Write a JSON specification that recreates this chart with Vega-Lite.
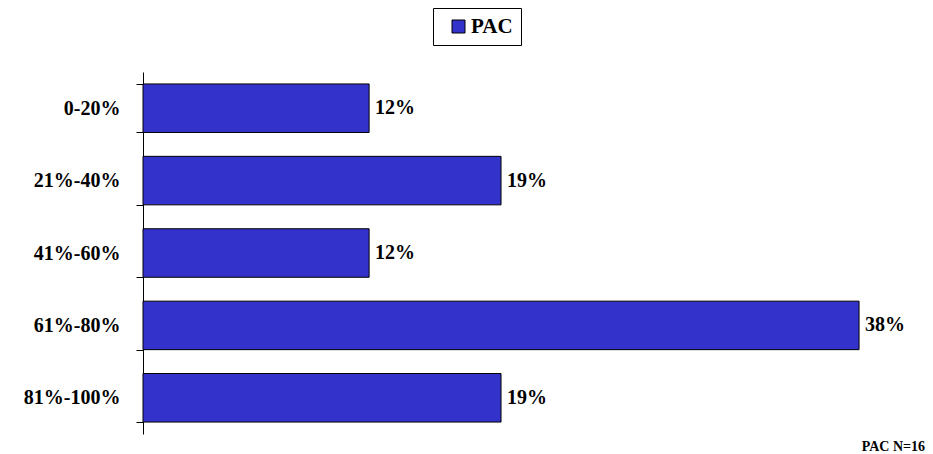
{
  "$schema": "https://vega.github.io/schema/vega-lite/v6.json",
  "autosize": "none",
  "width": 782,
  "height": 362,
  "padding": {"left": 143, "top": 72, "right": 8, "bottom": 20},
  "background": "white",
  "data": {
    "values": [
      {"range": "0-20%", "value": 12, "series": "PAC"},
      {"range": "21%-40%", "value": 19, "series": "PAC"},
      {"range": "41%-60%", "value": 12, "series": "PAC"},
      {"range": "61%-80%", "value": 38, "series": "PAC"},
      {"range": "81%-100%", "value": 19, "series": "PAC"}
    ]
  },
  "title": {
    "text": "PAC N=16",
    "orient": "bottom",
    "anchor": "end",
    "font": "Liberation Serif",
    "fontSize": 14,
    "fontWeight": "bold",
    "color": "black",
    "offset": 6
  },
  "config": {
    "view": {"stroke": null},
    "font": "Liberation Serif"
  },
  "encoding": {
    "y": {
      "field": "range",
      "type": "nominal",
      "sort": null,
      "scale": {"paddingInner": 0.33, "paddingOuter": 0.165},
      "axis": {
        "title": null,
        "tickBand": "extent",
        "domainColor": "black",
        "tickColor": "black",
        "tickSize": 7,
        "labelPadding": 16,
        "labelFont": "Liberation Serif",
        "labelFontSize": 20,
        "labelFontWeight": "bold",
        "labelColor": "black"
      }
    },
    "x": {
      "field": "value",
      "type": "quantitative",
      "scale": {"domain": [0, 41.5], "nice": false},
      "axis": null
    }
  },
  "layer": [
    {
      "mark": {"type": "bar", "stroke": "black", "strokeWidth": 1, "color": "#3333CC"},
      "encoding": {
        "color": {
          "field": "series",
          "type": "nominal",
          "scale": {"range": ["#3333CC"]},
          "legend": {
            "title": null,
            "orient": "none",
            "legendX": 290,
            "legendY": -64,
            "strokeColor": "black",
            "fillColor": "white",
            "padding": 8,
            "symbolType": "square",
            "symbolSize": 169,
            "symbolOffset": 7,
            "symbolStrokeColor": "black",
            "symbolStrokeWidth": 1,
            "symbolOpacity": 1,
            "labelFont": "Liberation Serif",
            "labelFontSize": 21,
            "labelFontWeight": "bold",
            "labelColor": "black",
            "labelOffset": 2
          }
        }
      }
    },
    {
      "transform": [{"calculate": "datum.value + '%'", "as": "label"}],
      "mark": {
        "type": "text",
        "align": "left",
        "baseline": "middle",
        "dx": 6,
        "font": "Liberation Serif",
        "fontSize": 20,
        "fontWeight": "bold",
        "color": "black"
      },
      "encoding": {"text": {"field": "label"}}
    }
  ]
}
